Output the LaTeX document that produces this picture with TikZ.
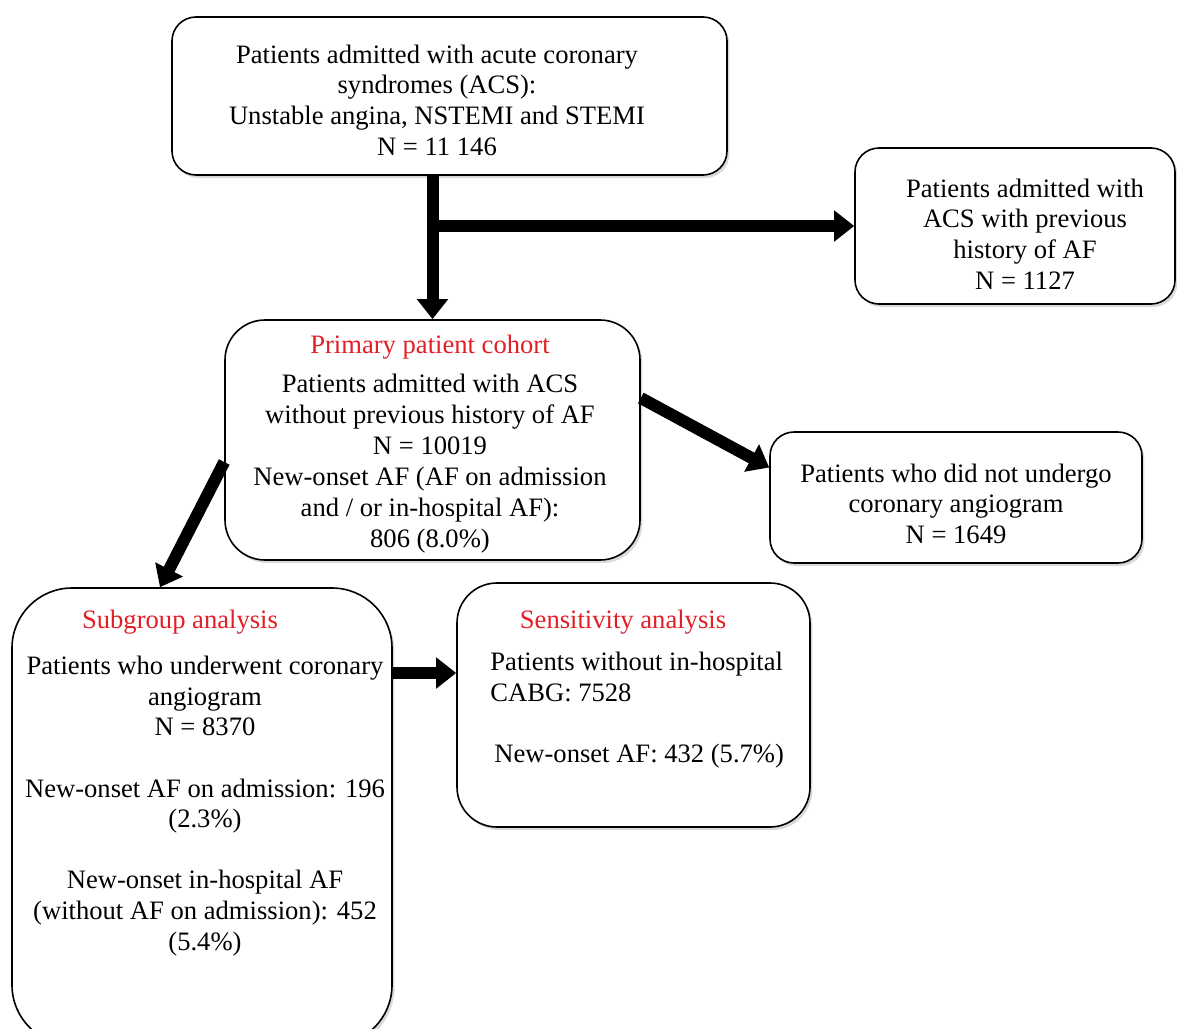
\documentclass[tikz,border=0pt]{standalone}
\usepackage{fontspec}
\setmainfont{Liberation Serif}
\usetikzlibrary{arrows.meta, shadows, positioning}
\definecolor{titlered}{RGB}{226,30,38}
\tikzset{
  flow box/.style={
    rounded corners=12pt,
    draw,
    line width=0.8pt,
    fill=white,
    inner sep=0pt,
    drop shadow={shadow xshift=1.2pt, shadow yshift=-1.5pt, opacity=0.3},
  },
  flow text/.style={
    align=center,
    inner sep=0pt,
    font=\fontsize{13.3}{15.3}\selectfont,
  },
  flow arrow/.style={
    line width=6pt,
    -{Triangle[length=10pt, width=15pt]},
  },
}

\begin{document}
\begin{tikzpicture}[x=0.5pt, y=-0.5pt]
        \useasboundingbox (0,0) rectangle (1177,1028);

        % boxes
        \node[flow box, minimum width=277.5pt, minimum height=79pt] (acs) at (449.5,96) {};
        \node[flow box, minimum width=160pt, minimum height=78pt] (prevaf) at (1015,226) {};
        \node[flow box, rounded corners=20pt, minimum width=207.5pt, minimum height=120pt] (cohort) at (432.5,440) {};
        \node[flow box, minimum width=186pt, minimum height=65.5pt] (noangio) at (956,497.5) {};
        \node[flow box, rounded corners=30pt, minimum width=190pt, minimum height=228.5pt] (subgroup) at (202,816.5) {};
        \node[flow box, rounded corners=20pt, minimum width=176.5pt, minimum height=122pt] (sensit) at (633.5,705) {};

        % texts
        \node[flow text] (acstext) at (437,100)
          {Patients admitted with acute coronary\\ syndromes (ACS):\\
           Unstable angina, NSTEMI and STEMI\\ N = 11 146};
        \node[flow text] (prevaftext) at (1025,234)
          {Patients admitted with\\ ACS with previous\\ history of AF\\ N = 1127};
        \node[flow text, font=\fontsize{13.3}{15.5}\selectfont] (cohorttext) at (430,444)
          {{\color{titlered}Primary patient cohort}\\[4pt]
           Patients admitted with ACS\\ without previous history of AF\\ N = 10019\\
           New-onset AF (AF on admission\\ and / or in-hospital AF):\\ 806 (8.0\%)};
        \node[flow text] (noangiotext) at (956,503.5)
          {Patients who did not undergo\\ coronary angiogram\\ N = 1649};
        \node[flow text, text=titlered] (subtitle) at (180,622) {Subgroup analysis};
        \node[flow text] (subtext) at (205,806)
          {Patients who underwent coronary\\ angiogram\\ N = 8370\\[15.3pt]
           New-onset AF on admission: 196\\ (2.3\%)\\[15.3pt]
           New-onset in-hospital AF\\ (without AF on admission): 452\\ (5.4\%)};
        \node[flow text, text=titlered] (senstitle) at (623,622) {Sensitivity analysis};
        \node[flow text, align=left, anchor=west] (senstext) at (490,710)
          {Patients without in-hospital\\ CABG: 7528\\[15.3pt] \hspace{2pt}New-onset AF: 432 (5.7\%)};

        % arrows
        \coordinate (split) at (cohort.north |- prevaf.west);
        \coordinate (sensin) at ([yshift=16pt]sensit.west);
        \draw[flow arrow] (cohort.north |- acs.south) -- (cohort.north);
        \draw[flow arrow] ([xshift=-3pt]split) -- (prevaf.west);
        \draw[flow arrow] ([yshift=21pt]cohort.east) -- ([yshift=15pt]noangio.west);
        \draw[flow arrow] ([yshift=-11pt]cohort.west) -- ([xshift=-21pt]subgroup.north);
        \draw[flow arrow] (subgroup.east |- sensin) -- (sensin);
\end{tikzpicture}
\end{document}
